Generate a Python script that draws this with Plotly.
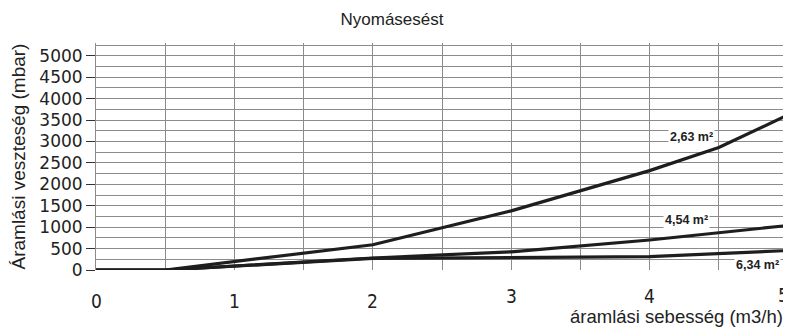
import plotly.graph_objects as go

# Data
flow = [0, 0.5, 2, 3, 4, 4.5, 5]
loss_263 = [0, 0, 590, 1380, 2320, 2860, 3620]
flow_b = [0, 0.5, 2, 3, 4, 5]
loss_454 = [0, 0, 280, 425, 700, 1040]
loss_634 = [0, 0, 270, 290, 310, 455]

series_names = ["2,63 m²", "4,54 m²", "6,34 m²"]
label_pos_x = [4.3, 4.27, 4.78]
label_pos_y = [3110, 1170, 120]

x_ticks = [0, 1, 2, 3, 4, 5]
x_tick_labels = ["0", "1", "2", "3", "4", "5"]
x_tick_raise = [0, 0, 0, 1, 1, 2]
y_ticks = [0, 500, 1000, 1500, 2000, 2500, 3000, 3500, 4000, 4500, 5000]

# The page has an 8px body margin; the figure is sized to fill the rest.
W, H = 783, 319
ML, MR, MT, MB = 88, 3, 35, 57

line_color = "#1e1e1e"
grid_color = "#8c8c8c"
txt = "#222222"
fig = go.Figure()
for xs, ys in [(flow, loss_263), (flow_b, loss_454), (flow_b, loss_634)]:
    fig.add_trace(go.Scatter(x=xs, y=ys, mode="lines",
                             line=dict(color=line_color, width=3.2),
                             showlegend=False, hoverinfo="skip"))

for name, lx, ly in zip(series_names, label_pos_x, label_pos_y):
    fig.add_annotation(x=lx, y=ly, xref="x", yref="y", text="<b>" + name + "</b>",
                       showarrow=False, bgcolor="white",
                       font=dict(family="Arial, Liberation Sans", size=12.5, color=txt))

shifts = {0: -18, 1: -13, 2: -12}
n_ticks = len(x_ticks)
for i, (xv, lab, r) in enumerate(zip(x_ticks, x_tick_labels, x_tick_raise)):
    fig.add_annotation(x=xv, y=0, xref="x", yref="paper", yshift=shifts[r],
                       xshift=-5 if i == n_ticks - 1 else 0,
                       text=lab, showarrow=False, yanchor="top", xanchor="center",
                       font=dict(family="DejaVu Sans Condensed, DejaVu Sans", size=19, color=txt))

fig.add_annotation(x=1, y=0, xref="paper", yref="paper", yshift=-46.5, xshift=-3,
                   text="áramlási sebesség (m3/h)", showarrow=False,
                   xanchor="right", yanchor="middle",
                   font=dict(family="Arial, Liberation Sans", size=18.5, color=txt))

fig.add_annotation(x=0, y=0.5, xref="paper", yref="paper", xshift=-(ML - 10),
                   text="Áramlási veszteség (mbar)", showarrow=False, textangle=-90,
                   xanchor="center", yanchor="middle",
                   font=dict(family="Arial, Liberation Sans", size=19, color=txt))

fig.update_layout(
    width=W, height=H,
    margin=dict(l=ML, r=MR, t=MT, b=MB, autoexpand=False),
    paper_bgcolor="white", plot_bgcolor="white",
    title=dict(text="Nyomásesést", x=(392 - 8) / W, xanchor="center",
               y=1 - 11 / H, yanchor="middle",
               font=dict(family="Arial, Liberation Sans", size=17, color=txt)),
    xaxis=dict(range=[0, 5], dtick=0.5, showticklabels=False, showgrid=True,
               gridcolor=grid_color, gridwidth=1, zeroline=False, showline=False,
               fixedrange=True),
    yaxis=dict(range=[0, 5300], tickvals=y_ticks, ticks="outside", ticklen=9,
               tickcolor="#333", showgrid=False, zeroline=False,
               showline=True, linecolor=grid_color, linewidth=1, automargin=False,
               tickfont=dict(family="DejaVu Sans", size=17, color=txt)),
)
fig.update_yaxes(minor=dict(dtick=250, tick0=0, showgrid=True, gridcolor=grid_color, gridwidth=1))

fig.write_html("out.html")
